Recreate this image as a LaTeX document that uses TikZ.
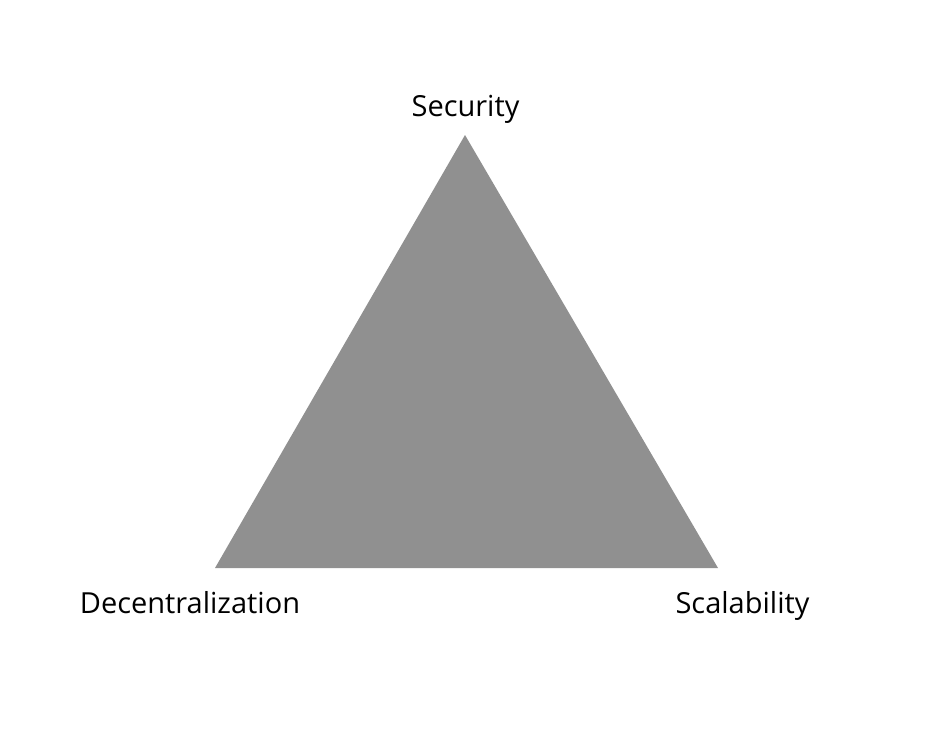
\documentclass[tikz,border=0pt]{standalone}
\usepackage{fontspec}
\setmainfont{Open Sans}
\usepackage{xcolor}
\usepackage{tikz}
\usetikzlibrary{positioning}
\definecolor{trigray}{HTML}{909090}
\tikzset{
  corner/.style={font=\fontsize{29}{34}\selectfont,inner sep=0pt,anchor=base}
}

\begin{document}
\begin{tikzpicture}[x=1pt,y=-1pt]
\useasboundingbox (0,0) rectangle (932,732);
% corners of the trilemma
\coordinate (top) at (465,135);
\coordinate (left) at (215,568);
\coordinate (right) at (718,568);
\fill[trigray] (top) -- (left) -- (right) -- cycle;
\node[corner] (security) at (465.5,116) {Security};
\node[corner] (decentral) at (190,613) {Decentralization};
\node[corner] (scalab) at (742.5,613) {Scalability};
\end{tikzpicture}
\end{document}
